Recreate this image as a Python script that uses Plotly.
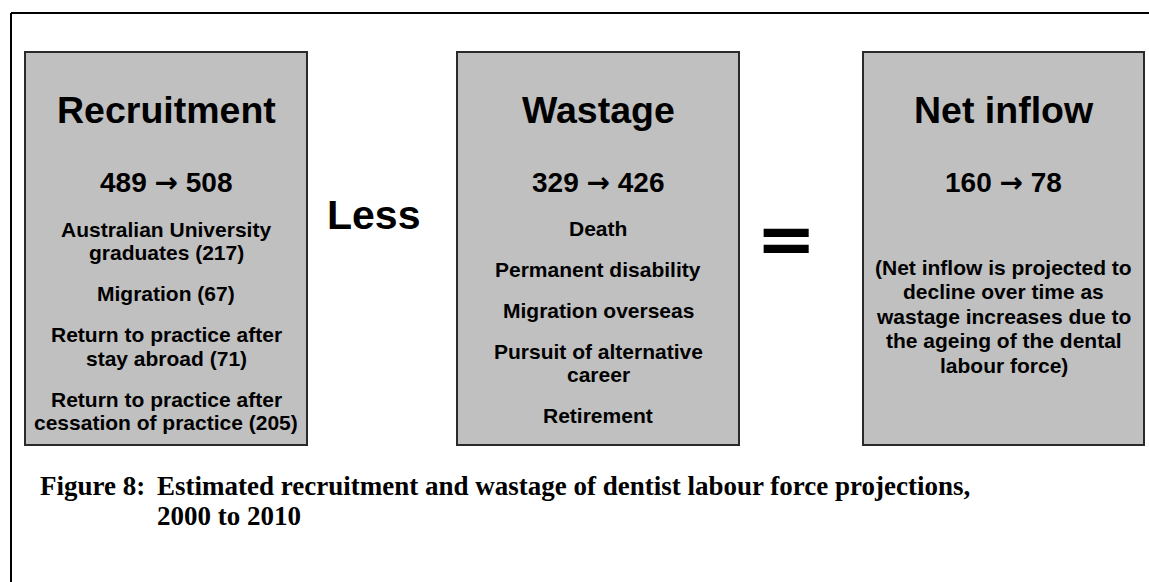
import plotly.graph_objects as go

# ─── CONTENT ──────────────────────────────────────────────────
BOX_TITLES = ["Recruitment", "Wastage", "Net inflow"]
FIGURE_FROM = [489, 329, 160]
FIGURE_TO = [508, 426, 78]

RECRUITMENT_ITEMS = [
    ["Australian University", "graduates (217)"],
    ["Migration (67)"],
    ["Return to practice after", "stay abroad (71)"],
    ["Return to practice after", "cessation of practice (205)"],
]
WASTAGE_ITEMS = [
    ["Death"],
    ["Permanent disability"],
    ["Migration overseas"],
    ["Pursuit of alternative", "career"],
    ["Retirement"],
]
NET_INFLOW_NOTE = [
    ["(Net inflow is projected to", "decline over time as",
     "wastage increases due to", "the ageing of the dental",
     "labour force)"],
]
OPERATORS = ["Less", "="]

CAPTION_LABEL = "Figure 8:"
CAPTION_LINES = ["Estimated recruitment and wastage of dentist labour force projections,",
                 "2000 to 2010"]

# ─── DESIGN TOKENS ────────────────────────────────────────────
W, H = 1149, 582
BOX_FILL = "#C0C0C0"
BOX_LINE = "#2a2a2a"
INK = "#000000"
SANS = "Liberation Sans, Arial, sans-serif"
SERIF = "Liberation Serif, Times New Roman, serif"
ARROW = '<span style="font-family:DejaVu Sans">\u2192</span>'

# box geometry (pixels, y measured from top)
BOXES = [(25, 307), (457, 739), (863, 1144)]
BOX_TOP, BOX_BOTTOM = 52, 445
TITLE_Y, FIGURE_Y = 110, 182
ITEM_START = [229, 228, 267]
LINE_STEP = [23.5, 23.0, 24.6]
GROUP_STEP = 41

fig = go.Figure()

shapes = [
    dict(type="line", x0=11, x1=W, y0=13, y1=13, line=dict(color=INK, width=2)),
    dict(type="line", x0=11, x1=11, y0=13, y1=H, line=dict(color=INK, width=2)),
]
annotations = []


def label(x, y, text, size, family=SANS, xanchor="center"):
    annotations.append(dict(
        x=x, y=y, xref="x", yref="y", text=text, showarrow=False,
        xanchor=xanchor, yanchor="middle",
        font=dict(family=family, size=size, color=INK, weight="bold"),
    ))


groups_per_box = [RECRUITMENT_ITEMS, WASTAGE_ITEMS, NET_INFLOW_NOTE]
for i, (x0, x1) in enumerate(BOXES):
    shapes.append(dict(type="rect", x0=x0, x1=x1, y0=BOX_TOP, y1=BOX_BOTTOM,
                       fillcolor=BOX_FILL, line=dict(color=BOX_LINE, width=2),
                       layer="below"))
    cx = (x0 + x1) / 2
    label(cx, TITLE_Y, BOX_TITLES[i], 37.5)
    label(cx, FIGURE_Y, f"{FIGURE_FROM[i]} {ARROW} {FIGURE_TO[i]}", 28)
    y = ITEM_START[i]
    for group in groups_per_box[i]:
        for j, line in enumerate(group):
            label(cx, y + j * LINE_STEP[i], line, 21)
        y += (len(group) - 1) * LINE_STEP[i] + GROUP_STEP

# operators between the boxes
label(373, 215, OPERATORS[0], 41)
label(786, 238, OPERATORS[1], 72, family="DejaVu Sans")

# caption
label(38, 486, CAPTION_LABEL, 27, family=SERIF, xanchor="left")
for k, line in enumerate(CAPTION_LINES):
    label(155, 486 + k * 30, line, 27, family=SERIF, xanchor="left")

fig.update_layout(
    width=W, height=H,
    margin=dict(l=0, r=0, t=0, b=0),
    paper_bgcolor="white", plot_bgcolor="white",
    xaxis=dict(range=[0, W], visible=False, fixedrange=True),
    yaxis=dict(range=[H, 0], visible=False, fixedrange=True),
    shapes=shapes,
    annotations=annotations,
    showlegend=False,
)

fig.write_html("out.html", config={"displayModeBar": False},
               post_script="document.body.style.margin='0';")
